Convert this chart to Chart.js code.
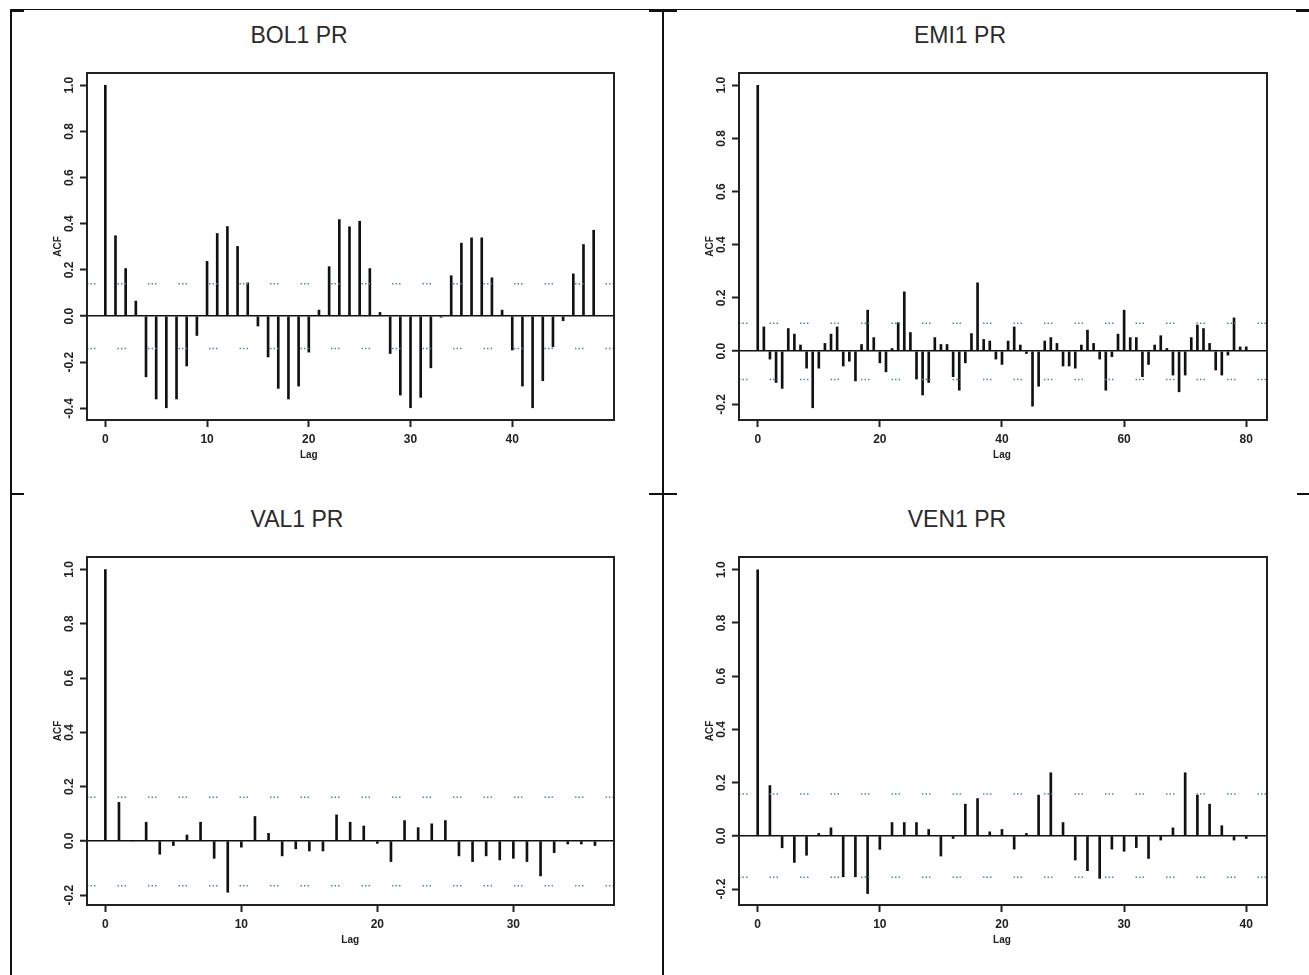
<!DOCTYPE html>
<html>
<head>
<meta charset="utf-8">
<title>ACF PR</title>
<script src="https://cdn.jsdelivr.net/npm/chart.js@4/dist/chart.umd.min.js"></script>
<style>
  html, body { margin: 0; padding: 0; background: #fff; }
  body { width: 1309px; height: 975px; position: relative; overflow: hidden; font-family: "Liberation Sans", Arial, sans-serif; }
  .rule { position: absolute; background: #111; }
  .title { position: absolute; width: 240px; text-align: center; font-size: 23px; line-height: 26px; color: #2a2a2a; }
  .panel { position: absolute; }
</style>
</head>
<body>

<!-- table borders -->
<div class="rule" style="left:11px; top:9px; width:1298px; height:1px;"></div>
<div class="rule" style="left:10px; top:9px; width:2px; height:966px;"></div>
<div class="rule" style="left:662px; top:9px; width:2px; height:966px;"></div>
<div class="rule" style="left:11px; top:9px; width:13px; height:3px;"></div>
<div class="rule" style="left:649px; top:9px; width:28px; height:3px;"></div>
<div class="rule" style="left:1296px; top:9px; width:13px; height:3px;"></div>
<div class="rule" style="left:11px; top:493px; width:13px; height:2px;"></div>
<div class="rule" style="left:649px; top:493px; width:28px; height:2px;"></div>
<div class="rule" style="left:1297px; top:493px; width:12px; height:2px;"></div>

<div class="title" style="left:179px; top:22px;">BOL1 PR</div>
<div class="title" style="left:840px; top:22px;">EMI1 PR</div>
<div class="title" style="left:177px; top:506px;">VAL1 PR</div>
<div class="title" style="left:837px; top:506px;">VEN1 PR</div>

<div class="panel" id="p1"><canvas id="bolChart"></canvas></div>
<div class="panel" id="p2"><canvas id="emiChart"></canvas></div>
<div class="panel" id="p3"><canvas id="valChart"></canvas></div>
<div class="panel" id="p4"><canvas id="venChart"></canvas></div>

<script>
// ACF values (lag 0 .. max lag)
const bolAcf = [1.0, 0.348, 0.206, 0.065, -0.263, -0.359, -0.397, -0.359, -0.216, -0.084,
    0.237, 0.358, 0.388, 0.302, 0.144, -0.043, -0.177, -0.313, -0.359, -0.303,
    -0.156, 0.026, 0.214, 0.418, 0.387, 0.411, 0.206, 0.016, -0.162, -0.342,
    -0.397, -0.352, -0.224, -0.005, 0.175, 0.316, 0.339, 0.339, 0.166, 0.026,
    -0.147, -0.303, -0.397, -0.280, -0.133, -0.020, 0.183, 0.310, 0.372];

const emiAcf = [1.0, 0.091, -0.030, -0.118, -0.140, 0.085, 0.064, 0.023, -0.064, -0.213,
    -0.064, 0.029, 0.064, 0.091, -0.056, -0.038, -0.112, 0.025, 0.154, 0.051,
    -0.044, -0.078, 0.010, 0.107, 0.223, 0.070, -0.105, -0.165, -0.118, 0.051,
    0.025, 0.025, -0.096, -0.147, -0.044, 0.066, 0.257, 0.044, 0.038, -0.030,
    -0.050, 0.038, 0.091, 0.023, -0.009, -0.207, -0.132, 0.038, 0.051, 0.029,
    -0.056, -0.056, -0.064, 0.023, 0.079, 0.029, -0.030, -0.147, -0.021, 0.064,
    0.154, 0.051, 0.051, -0.096, -0.050, 0.023, 0.058, 0.010, -0.090, -0.153,
    -0.090, 0.051, 0.098, 0.085, 0.029, -0.071, -0.090, -0.015, 0.125, 0.016,
    0.016];

const valAcf = [1.0, 0.142, 0.0, 0.069, -0.049, -0.017, 0.022, 0.069, -0.064, -0.189,
    -0.023, 0.090, 0.028, -0.055, -0.029, -0.037, -0.037, 0.096, 0.069, 0.055,
    -0.009, -0.076, 0.075, 0.049, 0.063, 0.075, -0.055, -0.076, -0.055, -0.070,
    -0.064, -0.076, -0.129, -0.043, -0.011, -0.011, -0.017];

const venAcf = [1.0, 0.189, -0.045, -0.100, -0.073, 0.009, 0.030, -0.154, -0.154, -0.217,
    -0.051, 0.050, 0.050, 0.050, 0.024, -0.076, -0.010, 0.119, 0.140, 0.015,
    0.024, -0.050, 0.009, 0.153, 0.237, 0.050, -0.091, -0.131, -0.160, -0.050,
    -0.058, -0.044, -0.085, -0.016, 0.030, 0.237, 0.153, 0.119, 0.038, -0.016,
    -0.010];

// confidence bands (dotted lines)
const bolBand = [0.14, -0.14];
const emiBand = [0.105, -0.107];
const valBand = [0.161, -0.165];
const venBand = [0.157, -0.156];

// tick labels
const bolXTicks = [0, 10, 20, 30, 40];
const emiXTicks = [0, 20, 40, 60, 80];
const valXTicks = [0, 10, 20, 30];
const venXTicks = [0, 10, 20, 30, 40];
const bolYTicks = [-0.4, -0.2, 0.0, 0.2, 0.4, 0.6, 0.8, 1.0];
const emiYTicks = [-0.2, 0.0, 0.2, 0.4, 0.6, 0.8, 1.0];
const valYTicks = [-0.2, 0.0, 0.2, 0.4, 0.6, 0.8, 1.0];
const venYTicks = [-0.2, 0.0, 0.2, 0.4, 0.6, 0.8, 1.0];

const FONT = '"Liberation Sans", Arial, Helvetica, sans-serif';
const INK = '#222';

// frame, rotated y labels, ACF and Lag
const acfDecor = {
    id: 'acfDecor',
    afterDraw(chart, args, opts) {
        const ctx = chart.ctx;
        const a = chart.chartArea;
        const yS = chart.scales.y;
        const xS = chart.scales.x;
        ctx.save();
        ctx.strokeStyle = INK;
        ctx.lineWidth = 2;
        ctx.strokeRect(a.left, a.top, a.right - a.left, a.bottom - a.top);

        ctx.fillStyle = INK;
        ctx.textAlign = 'center';
        ctx.textBaseline = 'middle';
        ctx.font = 'bold 12px ' + FONT;
        yS.ticks.forEach(t => {
            ctx.save();
            ctx.translate(a.left - 17, yS.getPixelForValue(t.value));
            ctx.rotate(-Math.PI / 2);
            ctx.fillText(t.value.toFixed(1), 0, 0);
            ctx.restore();
        });

        ctx.font = 'bold 10px ' + FONT;
        ctx.save();
        ctx.translate(a.left - 29, (a.top + a.bottom) / 2);
        ctx.rotate(-Math.PI / 2);
        ctx.fillText('ACF', 0, 0);
        ctx.restore();

        ctx.fillText('Lag', xS.getPixelForValue(opts.lagAt), a.bottom + 35);
        ctx.restore();
    }
};

function makeAcfChart(canvasId, panelId, box, acf, band, xRange, yRange, xTicks, yTicks, lagAt) {
    const padL = 60, padT = 10, padR = 10, padB = 50;
    const w = box.right - box.left + padL + padR;
    const h = box.bottom - box.top + padT + padB;
    const panel = document.getElementById(panelId);
    panel.style.left = (box.left - padL) + 'px';
    panel.style.top = (box.top - padT) + 'px';
    const canvas = document.getElementById(canvasId);
    canvas.width = w;
    canvas.height = h;

    const lags = acf.map((v, i) => i);
    const bars = lags.map((lag, i) => ({ x: lag, y: acf[i] }));
    const dotted = {
        type: 'line',
        borderColor: '#4a8c9c',
        borderWidth: 1.5,
        borderDash: [1.5, 2, 1.5, 2, 1.5, 22],
        pointRadius: 0,
        fill: false
    };

    return new Chart(canvas, {
        type: 'bar',
        data: {
            datasets: [
                Object.assign({ data: [{ x: xRange[0], y: band[0] }, { x: xRange[1], y: band[0] }] }, dotted),
                Object.assign({ data: [{ x: xRange[0], y: band[1] }, { x: xRange[1], y: band[1] }] }, dotted),
                {
                    data: bars,
                    backgroundColor: '#111',
                    borderWidth: 0,
                    barThickness: 2,
                    grouped: false
                }
            ]
        },
        options: {
            responsive: false,
            animation: false,
            devicePixelRatio: 1,
            layout: { padding: { left: 0, top: padT, right: padR, bottom: 0 } },
            plugins: {
                legend: { display: false },
                tooltip: { enabled: false },
                acfDecor: { lagAt: lagAt }
            },
            scales: {
                x: {
                    type: 'linear',
                    min: xRange[0],
                    max: xRange[1],
                    offset: false,
                    afterBuildTicks: s => { s.ticks = xTicks.map(v => ({ value: v })); },
                    afterFit: s => { s.height = padB; },
                    border: { display: false },
                    grid: {
                        offset: false,
                        drawOnChartArea: false,
                        drawTicks: true,
                        tickLength: 7,
                        tickWidth: 2,
                        tickColor: INK
                    },
                    ticks: {
                        padding: 5,
                        color: INK,
                        maxRotation: 0,
                        font: { family: FONT, size: 12, weight: 'bold' }
                    }
                },
                y: {
                    min: yRange[0],
                    max: yRange[1],
                    afterBuildTicks: s => { s.ticks = yTicks.map(v => ({ value: v })); },
                    afterFit: s => { s.width = padL; },
                    border: { display: false },
                    grid: {
                        drawTicks: true,
                        tickLength: 7,
                        tickWidth: 2,
                        tickColor: INK,
                        color: c => (c.tick && c.tick.value === 0) ? '#111' : 'rgba(0,0,0,0)',
                        lineWidth: c => (c.tick && c.tick.value === 0) ? 1.5 : 1
                    },
                    ticks: { display: false }
                }
            }
        },
        plugins: [acfDecor]
    });
}

document.addEventListener('DOMContentLoaded', function() {
    makeAcfChart('bolChart', 'p1', { left: 87, top: 73, right: 614, bottom: 420 },
        bolAcf, bolBand, [-1.8, 50], [-0.45, 1.053], bolXTicks, bolYTicks, 20);
    makeAcfChart('emiChart', 'p2', { left: 739, top: 73, right: 1267, bottom: 420 },
        emiAcf, emiBand, [-3.07, 83.4], [-0.259, 1.046], emiXTicks, emiYTicks, 40);
    makeAcfChart('valChart', 'p3', { left: 87, top: 557, right: 614, bottom: 905 },
        valAcf, valBand, [-1.35, 37.4], [-0.236, 1.046], valXTicks, valYTicks, 18);
    makeAcfChart('venChart', 'p4', { left: 739, top: 557, right: 1267, bottom: 905 },
        venAcf, venBand, [-1.53, 41.7], [-0.26, 1.048], venXTicks, venYTicks, 20);
});
</script>
</body>
</html>
